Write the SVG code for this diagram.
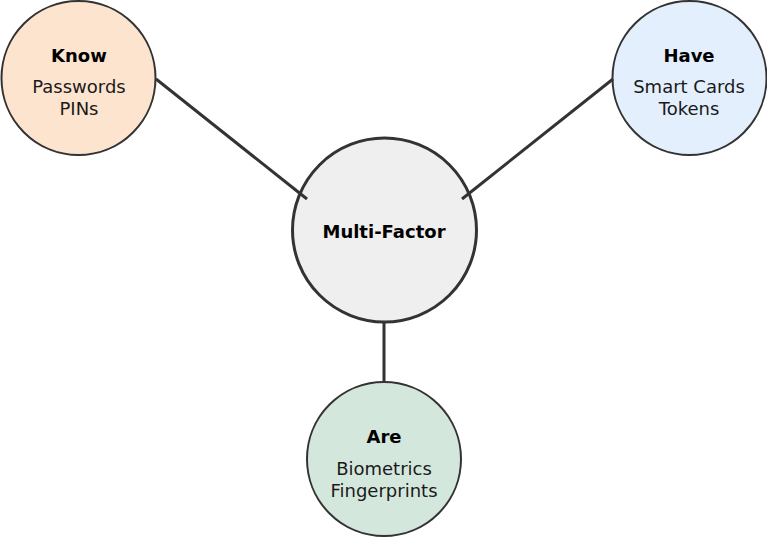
<svg xmlns="http://www.w3.org/2000/svg" width="767" height="540" viewBox="0 0 767 540">
  <style>
    .node { stroke: #333333; stroke-width: 2; }
    .hub { stroke: #333333; stroke-width: 3; }
    .link { stroke: #333333; stroke-width: 3; fill: none; }
    .title { font-family: "DejaVu Sans", sans-serif; font-size: 18px; font-weight: bold; fill: #000000; text-anchor: middle; }
    .item { font-family: "DejaVu Sans", sans-serif; font-size: 18px; fill: #1a1a1a; text-anchor: middle; }
  </style>
  <rect width="767" height="540" fill="#ffffff"/>

  <g id="node-know">
    <circle class="node" cx="78.5" cy="78" r="77" fill="#fde4cf"/>
    <text class="title" x="79" y="62">Know</text>
    <text class="item" x="79" y="93">Passwords</text>
    <text class="item" x="79" y="115">PINs</text>
  </g>

  <g id="node-have">
    <circle class="node" cx="689.5" cy="78" r="77" fill="#e3effc"/>
    <text class="title" x="689" y="62">Have</text>
    <text class="item" x="689" y="93">Smart Cards</text>
    <text class="item" x="689" y="115">Tokens</text>
  </g>

  <g id="node-are">
    <circle class="node" cx="384" cy="459" r="77" fill="#d4e7dd"/>
    <text class="title" x="384" y="443">Are</text>
    <text class="item" x="384" y="475">Biometrics</text>
    <text class="item" x="384" y="497">Fingerprints</text>
  </g>

  <g id="node-multi-factor">
    <circle class="hub" cx="384.5" cy="230" r="92" fill="#efefef"/>
    <text class="title" x="384" y="238">Multi-Factor</text>
  </g>

  <g id="connectors">
    <line class="link" x1="156" y1="79" x2="307" y2="199"/>
    <line class="link" x1="613" y1="79" x2="462" y2="199"/>
    <line class="link" x1="384" y1="322" x2="384" y2="382"/>
  </g>
</svg>
